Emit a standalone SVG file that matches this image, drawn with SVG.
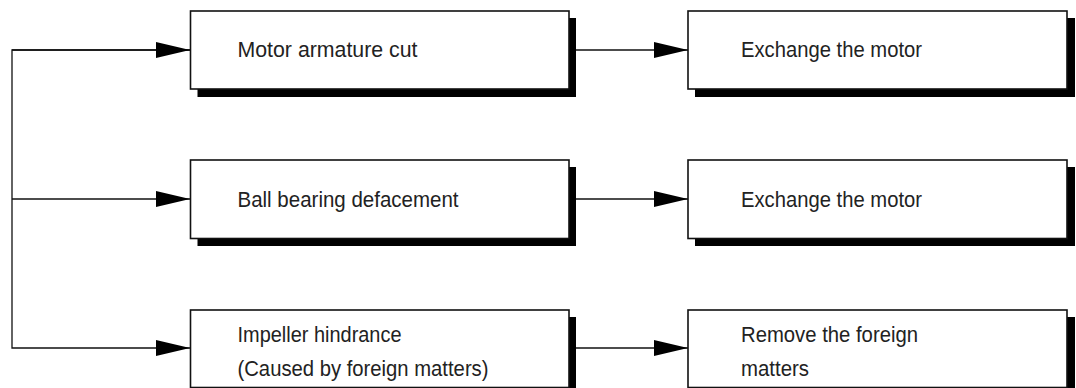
<svg xmlns="http://www.w3.org/2000/svg" width="1076" height="388" viewBox="0 0 1076 388">
<defs>
<style>
.box{fill:#fff;stroke:#111;stroke-width:1.6}
.sh{fill:#000}
.t{font-family:"Liberation Sans",Arial,Helvetica,sans-serif;font-size:22.5px;fill:#222}
.ln{fill:none;stroke:#111;stroke-width:1.3}
</style>
<marker id="ah" markerUnits="userSpaceOnUse" markerWidth="34" markerHeight="16" viewBox="0 0 34 16" refX="34" refY="8" orient="auto">
<path d="M0,0 L34,8 L0,16 Z" fill="#000"/>
</marker>
</defs>
<rect width="1076" height="388" fill="#fff"/>
<g id="connectors">
<path class="ln" d="M190,50 H12 V348 H190" marker-end="url(#ah)"/>
<path class="ln" d="M12,50 H190" marker-end="url(#ah)"/>
<path class="ln" d="M12,199 H190" marker-end="url(#ah)"/>
<path class="ln" d="M576,50 H688" marker-end="url(#ah)"/>
<path class="ln" d="M576,199 H688" marker-end="url(#ah)"/>
<path class="ln" d="M576,348 H688" marker-end="url(#ah)"/>
</g>
<g id="n1">
<rect class="sh" x="197.5" y="18" width="378.5" height="79"/>
<rect class="box" x="190.5" y="11" width="378.5" height="78"/>
<text class="t" x="237.5" y="57" textLength="180" lengthAdjust="spacingAndGlyphs">Motor armature cut</text>
</g>
<g id="n2">
<rect class="sh" x="197.5" y="167" width="378.5" height="79"/>
<rect class="box" x="190.5" y="160" width="378.5" height="78.5"/>
<text class="t" x="237.5" y="207" textLength="221" lengthAdjust="spacingAndGlyphs">Ball bearing defacement</text>
</g>
<g id="n3">
<rect class="sh" x="197.5" y="317" width="378.5" height="79"/>
<rect class="box" x="190.5" y="310" width="378.5" height="77.5"/>
<text class="t" x="237.5" y="342" textLength="164" lengthAdjust="spacingAndGlyphs">Impeller hindrance</text>
<text class="t" x="237.5" y="376" textLength="251" lengthAdjust="spacingAndGlyphs">(Caused by foreign matters)</text>
</g>
<g id="n4">
<rect class="sh" x="695" y="18" width="380" height="79"/>
<rect class="box" x="688" y="11" width="379" height="78"/>
<text class="t" x="741" y="57" textLength="181" lengthAdjust="spacingAndGlyphs">Exchange the motor</text>
</g>
<g id="n5">
<rect class="sh" x="695" y="167" width="380" height="79"/>
<rect class="box" x="688" y="160" width="379" height="78.5"/>
<text class="t" x="741" y="207" textLength="181" lengthAdjust="spacingAndGlyphs">Exchange the motor</text>
</g>
<g id="n6">
<rect class="sh" x="695" y="317" width="380" height="79"/>
<rect class="box" x="688" y="310" width="379" height="77.5"/>
<text class="t" x="741" y="342" textLength="177" lengthAdjust="spacingAndGlyphs">Remove the foreign</text>
<text class="t" x="741" y="376" textLength="68" lengthAdjust="spacingAndGlyphs">matters</text>
</g>
</svg>
